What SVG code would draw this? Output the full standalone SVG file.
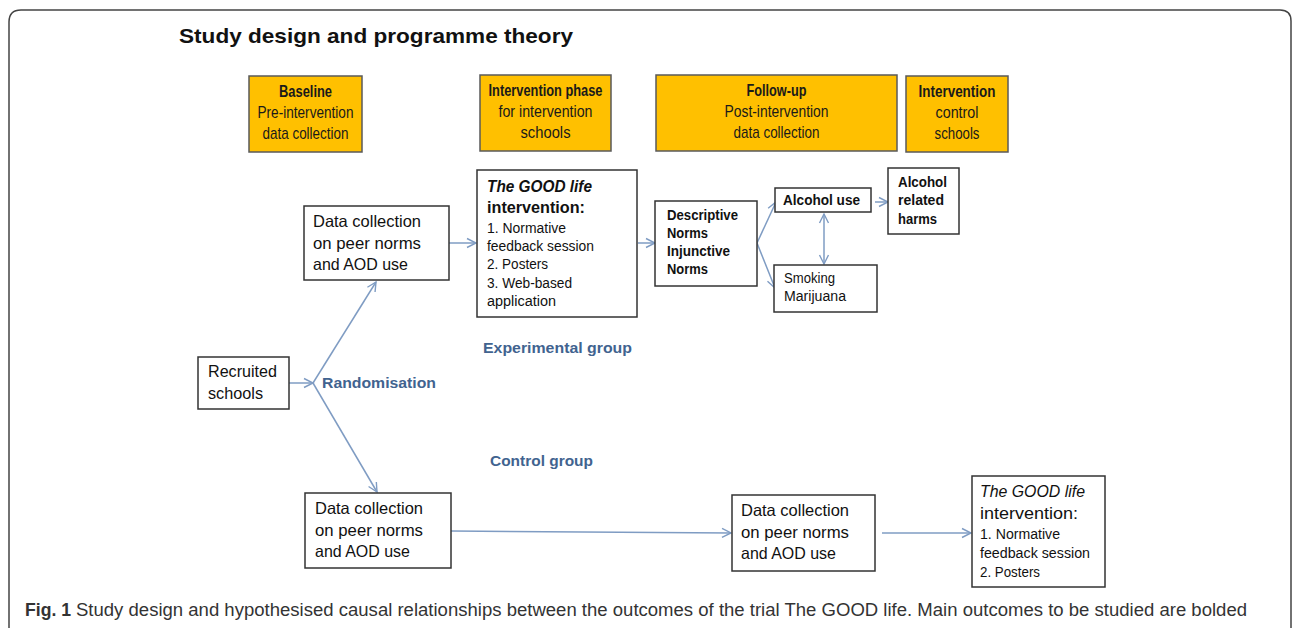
<svg xmlns="http://www.w3.org/2000/svg" width="1292" height="628" viewBox="0 0 1292 628">
  <defs>
    <marker id="chev" markerUnits="userSpaceOnUse" markerWidth="12" markerHeight="12" viewBox="0 0 12 12" refX="10" refY="6" orient="auto-start-reverse">
      <path d="M1,1.5 L10,6 L1,10.5" fill="none" stroke="#7f9cc3" stroke-width="1.4"/>
    </marker>
    <style>
      text { font-family: "Liberation Sans", Arial, sans-serif; fill: #111; }
      .phase { fill: #ffc000; stroke: #5a5a5a; stroke-width: 1.5; }
      .box { fill: #fff; stroke: #333; stroke-width: 1.5; }
      .ph { font-size: 17px; text-anchor: middle; fill: #1a1a1a; }
      .b { font-weight: bold; }
      .t16 { font-size: 16.5px; }
      .t13 { font-size: 14px; }
      .t14 { font-size: 14px; font-weight: bold; }
      .lbl { font-size: 15.5px; font-weight: bold; fill: #41638f; }
      .conn line { stroke: #7f9cc3; stroke-width: 1.5; fill: none; }
      .cap { font-size: 17.5px; fill: #333; }
    </style>
  </defs>

  <rect width="1292" height="628" fill="#fff"/>
  <!-- outer figure frame, open at the bottom -->
  <path d="M9,628 V22 Q9,10 21,10 H1280 Q1291,10 1291,21 V628" fill="none" stroke="#444" stroke-width="1.5"/>

  <text x="179" y="43" font-size="21" font-weight="bold" textLength="394" lengthAdjust="spacingAndGlyphs">Study design and programme theory</text>

  <!-- phase headers -->
  <g id="phase-baseline">
    <rect class="phase" x="249" y="76" width="113" height="76"/>
    <text class="ph b" x="305.5" y="97" textLength="53" lengthAdjust="spacingAndGlyphs">Baseline</text>
    <text class="ph" x="305.5" y="118" textLength="96" lengthAdjust="spacingAndGlyphs">Pre-intervention</text>
    <text class="ph" x="305.5" y="139" textLength="86" lengthAdjust="spacingAndGlyphs">data collection</text>
  </g>
  <g id="phase-intervention">
    <rect class="phase" x="480" y="75" width="131" height="76"/>
    <text class="ph b" x="545.5" y="96" textLength="114" lengthAdjust="spacingAndGlyphs">Intervention phase</text>
    <text class="ph" x="545.5" y="117" textLength="94" lengthAdjust="spacingAndGlyphs">for intervention</text>
    <text class="ph" x="545.5" y="138" textLength="50" lengthAdjust="spacingAndGlyphs">schools</text>
  </g>
  <g id="phase-followup">
    <rect class="phase" x="656" y="75" width="241" height="76"/>
    <text class="ph b" x="776.5" y="96" textLength="60" lengthAdjust="spacingAndGlyphs">Follow-up</text>
    <text class="ph" x="776.5" y="117" textLength="104" lengthAdjust="spacingAndGlyphs">Post-intervention</text>
    <text class="ph" x="776.5" y="138" textLength="86" lengthAdjust="spacingAndGlyphs">data collection</text>
  </g>
  <g id="phase-control">
    <rect class="phase" x="906" y="76" width="102" height="76"/>
    <text class="ph b" x="957" y="97" textLength="77" lengthAdjust="spacingAndGlyphs">Intervention</text>
    <text class="ph" x="957" y="118" textLength="43" lengthAdjust="spacingAndGlyphs">control</text>
    <text class="ph" x="957" y="139" textLength="45" lengthAdjust="spacingAndGlyphs">schools</text>
  </g>

  <!-- connectors -->
  <g id="connectors" class="conn">
    <line x1="289" y1="383" x2="313" y2="383" marker-end="url(#chev)"/>
    <line x1="313" y1="383" x2="376" y2="282" marker-end="url(#chev)"/>
    <line x1="313" y1="383" x2="377" y2="492" marker-end="url(#chev)"/>
    <line x1="449" y1="243" x2="476" y2="243" marker-end="url(#chev)"/>
    <line x1="638" y1="243" x2="655" y2="243" marker-end="url(#chev)"/>
    <line x1="757" y1="243" x2="776" y2="202" marker-end="url(#chev)"/>
    <line x1="757" y1="243" x2="775" y2="288" marker-end="url(#chev)"/>
    <line x1="875" y1="202" x2="888" y2="202" marker-end="url(#chev)"/>
    <line x1="824" y1="214" x2="824" y2="264" marker-start="url(#chev)" marker-end="url(#chev)"/>
    <line x1="451" y1="531" x2="731" y2="533" marker-end="url(#chev)"/>
    <line x1="882" y1="533" x2="971" y2="533" marker-end="url(#chev)"/>
  </g>

  <g id="recruited">
    <rect class="box" x="198" y="357" width="91" height="52"/>
    <text class="t16" x="208" y="377" textLength="69" lengthAdjust="spacingAndGlyphs">Recruited</text>
    <text class="t16" x="208" y="399" textLength="55" lengthAdjust="spacingAndGlyphs">schools</text>
  </g>

  <g id="data-exp">
    <rect class="box" x="304" y="206" width="145" height="74"/>
    <text class="t16" x="313" y="227" textLength="108" lengthAdjust="spacingAndGlyphs">Data collection</text>
    <text class="t16" x="313" y="249" textLength="108" lengthAdjust="spacingAndGlyphs">on peer norms</text>
    <text class="t16" x="313" y="270" textLength="95" lengthAdjust="spacingAndGlyphs">and AOD use</text>
  </g>

  <g id="goodlife-exp">
    <rect class="box" x="477" y="170" width="160" height="147"/>
    <text x="487" y="192" font-size="16" font-weight="bold" font-style="italic" textLength="105" lengthAdjust="spacingAndGlyphs">The GOOD life</text>
    <text x="487" y="213" font-size="16" font-weight="bold" textLength="98" lengthAdjust="spacingAndGlyphs">intervention:</text>
    <text class="t13" x="487" y="233" textLength="79" lengthAdjust="spacingAndGlyphs">1. Normative</text>
    <text class="t13" x="487" y="251" textLength="107" lengthAdjust="spacingAndGlyphs">feedback session</text>
    <text class="t13" x="487" y="269" textLength="61" lengthAdjust="spacingAndGlyphs">2. Posters</text>
    <text class="t13" x="487" y="288" textLength="85" lengthAdjust="spacingAndGlyphs">3. Web-based</text>
    <text class="t13" x="487" y="306" textLength="69" lengthAdjust="spacingAndGlyphs">application</text>
  </g>

  <g id="norms">
    <rect class="box" x="655" y="201" width="102" height="85"/>
    <text class="t14" x="667" y="220" textLength="71" lengthAdjust="spacingAndGlyphs">Descriptive</text>
    <text class="t14" x="667" y="238" textLength="41" lengthAdjust="spacingAndGlyphs">Norms</text>
    <text class="t14" x="667" y="256" textLength="63" lengthAdjust="spacingAndGlyphs">Injunctive</text>
    <text class="t14" x="667" y="274" textLength="41" lengthAdjust="spacingAndGlyphs">Norms</text>
  </g>

  <g id="alcohol-use">
    <rect class="box" x="775" y="188" width="96" height="24"/>
    <text class="t14" x="783" y="205" textLength="77" lengthAdjust="spacingAndGlyphs">Alcohol use</text>
  </g>

  <g id="alcohol-harms">
    <rect class="box" x="888" y="168" width="71" height="66"/>
    <text class="t14" x="898" y="187" textLength="49" lengthAdjust="spacingAndGlyphs">Alcohol</text>
    <text class="t14" x="898" y="205" textLength="46" lengthAdjust="spacingAndGlyphs">related</text>
    <text class="t14" x="898" y="224" textLength="39" lengthAdjust="spacingAndGlyphs">harms</text>
  </g>

  <g id="smoking">
    <rect class="box" x="774" y="265" width="103" height="47"/>
    <text class="t13" x="784" y="283" textLength="51" lengthAdjust="spacingAndGlyphs">Smoking</text>
    <text class="t13" x="784" y="301" textLength="62" lengthAdjust="spacingAndGlyphs">Marijuana</text>
  </g>

  <g id="labels">
    <text class="lbl" x="322" y="388" textLength="114" lengthAdjust="spacingAndGlyphs">Randomisation</text>
    <text class="lbl" x="483" y="353" textLength="149" lengthAdjust="spacingAndGlyphs">Experimental group</text>
    <text class="lbl" x="490" y="466" textLength="103" lengthAdjust="spacingAndGlyphs">Control group</text>
  </g>

  <g id="data-ctrl-baseline">
    <rect class="box" x="305" y="493" width="146" height="75"/>
    <text class="t16" x="315" y="514" textLength="108" lengthAdjust="spacingAndGlyphs">Data collection</text>
    <text class="t16" x="315" y="536" textLength="108" lengthAdjust="spacingAndGlyphs">on peer norms</text>
    <text class="t16" x="315" y="557" textLength="95" lengthAdjust="spacingAndGlyphs">and AOD use</text>
  </g>

  <g id="data-ctrl-followup">
    <rect class="box" x="732" y="495" width="143" height="76"/>
    <text class="t16" x="741" y="516" textLength="108" lengthAdjust="spacingAndGlyphs">Data collection</text>
    <text class="t16" x="741" y="538" textLength="108" lengthAdjust="spacingAndGlyphs">on peer norms</text>
    <text class="t16" x="741" y="559" textLength="95" lengthAdjust="spacingAndGlyphs">and AOD use</text>
  </g>

  <g id="goodlife-ctrl">
    <rect class="box" x="972" y="476" width="133" height="111"/>
    <text x="980" y="497" font-size="16" font-style="italic" textLength="105" lengthAdjust="spacingAndGlyphs">The GOOD life</text>
    <text x="980" y="519" font-size="16" textLength="98" lengthAdjust="spacingAndGlyphs">intervention:</text>
    <text class="t13" x="980" y="539" textLength="80" lengthAdjust="spacingAndGlyphs">1. Normative</text>
    <text class="t13" x="980" y="558" textLength="110" lengthAdjust="spacingAndGlyphs">feedback session</text>
    <text class="t13" x="980" y="577" textLength="60" lengthAdjust="spacingAndGlyphs">2. Posters</text>
  </g>

  <!-- caption -->
  <text class="cap" x="25" y="616" font-weight="bold" fill="#222" textLength="46" lengthAdjust="spacingAndGlyphs">Fig. 1</text>
  <text class="cap" x="76" y="616" textLength="1171" lengthAdjust="spacingAndGlyphs">Study design and hypothesised causal relationships between the outcomes of the trial The GOOD life. Main outcomes to be studied are bolded</text>
</svg>
